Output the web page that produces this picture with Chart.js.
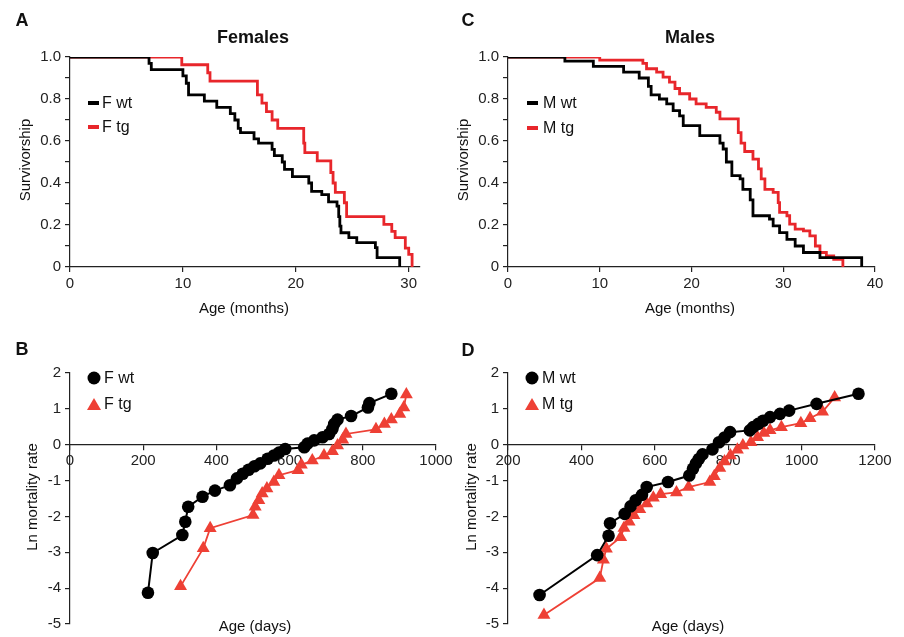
<!DOCTYPE html>
<html>
<head>
<meta charset="utf-8">
<script src="https://cdn.jsdelivr.net/npm/chart.js@4.4.0/dist/chart.umd.min.js"></script>
<style>
  body { margin: 0; background: #fff; font-family: "Liberation Sans", Arial, sans-serif; }
  #wrap { position: relative; width: 904px; height: 637px; overflow: hidden; }
  canvas { position: absolute; }
  .t { position: absolute; white-space: nowrap; color: #111; transform: translate(-50%, -50%); }
  .lt { position: absolute; white-space: nowrap; color: #111; font-size: 16px; transform: translateY(-50%); }
  .letter { font-weight: bold; font-size: 18px; }
  .title { font-weight: bold; font-size: 18px; }
  .ax { font-size: 15px; }
  .rot { transform: translate(-50%, -50%) rotate(-90deg); }
  .sw { position: absolute; height: 4px; width: 11px; transform: translateY(-50%); }
  .dot { position: absolute; width: 13px; height: 13px; border-radius: 50%; background: #000; transform: translate(-50%, -50%); }
  .tri { position: absolute; width: 0; height: 0; border-left: 7px solid transparent; border-right: 7px solid transparent;
         border-bottom: 12px solid #ee4035; transform: translate(-50%, -50%); }
</style>
</head>
<body>
<div id="wrap">
  <canvas id="cA" width="450" height="300" style="left:0;top:0"></canvas>
  <canvas id="cC" width="454" height="300" style="left:450px;top:0"></canvas>
  <canvas id="cB" width="470" height="297" style="left:0;top:340px"></canvas>
  <canvas id="cD" width="454" height="297" style="left:450px;top:340px"></canvas>

  <div class="t letter" style="left:22px;top:20px">A</div>
  <div class="t letter" style="left:468px;top:20px">C</div>
  <div class="t letter" style="left:22px;top:349px">B</div>
  <div class="t letter" style="left:468px;top:350px">D</div>

  <div class="t title" style="left:253px;top:37px">Females</div>
  <div class="t title" style="left:690px;top:37px">Males</div>

  <div class="t ax rot" style="left:24px;top:160px">Survivorship</div>
  <div class="t ax rot" style="left:462px;top:160px">Survivorship</div>
  <div class="t ax" style="left:244px;top:307px">Age (months)</div>
  <div class="t ax" style="left:690px;top:307px">Age (months)</div>

  <div class="t ax rot" style="left:31px;top:497px">Ln mortality rate</div>
  <div class="t ax rot" style="left:470px;top:497px">Ln mortality rate</div>
  <div class="t ax" style="left:255px;top:625px">Age (days)</div>
  <div class="t ax" style="left:688px;top:625px">Age (days)</div>

  <div class="sw" style="left:88px;top:103px;background:#000"></div>
  <div class="lt" style="left:102px;top:103px">F wt</div>
  <div class="sw" style="left:88px;top:127px;background:#e8262b"></div>
  <div class="lt" style="left:102px;top:127px">F tg</div>

  <div class="sw" style="left:527px;top:103px;background:#000"></div>
  <div class="lt" style="left:543px;top:103px">M wt</div>
  <div class="sw" style="left:527px;top:128px;background:#e8262b"></div>
  <div class="lt" style="left:543px;top:128px">M tg</div>

  <div class="dot" style="left:94px;top:378px"></div>
  <div class="lt" style="left:104px;top:378px">F wt</div>
  <div class="tri" style="left:94px;top:404px"></div>
  <div class="lt" style="left:104px;top:404px">F tg</div>

  <div class="dot" style="left:532px;top:378px"></div>
  <div class="lt" style="left:542px;top:378px">M wt</div>
  <div class="tri" style="left:532px;top:404px"></div>
  <div class="lt" style="left:542px;top:404px">M tg</div>
</div>

<script>
// Survival steps (month of death, survivorship after it)
const fWtMonths = [0, 7.0, 7.2, 10.0, 10.3, 10.5, 11.9, 13.0, 14.2, 14.6, 14.9, 15.1, 16.3, 16.7, 17.9, 18.1, 18.8, 19.0, 19.7, 21.15, 21.4, 22.3, 22.9, 23.65, 23.8, 23.9, 24.0, 24.7, 25.4, 27.05, 27.2, 29.2];
const fWtSurv   = [1.0, 0.97, 0.94, 0.91, 0.875, 0.82, 0.79, 0.76, 0.73, 0.70, 0.66, 0.64, 0.61, 0.59, 0.56, 0.53, 0.50, 0.465, 0.43, 0.40, 0.36, 0.345, 0.31, 0.29, 0.24, 0.195, 0.163, 0.14, 0.116, 0.092, 0.045, 0];

const fTgMonths = [0, 9.9, 12.2, 12.4, 16.6, 17.0, 17.4, 17.9, 18.4, 20.7, 20.8, 21.9, 23.1, 23.3, 23.5, 24.3, 24.5, 27.8, 28.5, 28.8, 29.7, 30.0, 30.3];
const fTgSurv   = [1.0, 0.963, 0.925, 0.885, 0.82, 0.78, 0.74, 0.70, 0.66, 0.59, 0.545, 0.505, 0.45, 0.40, 0.355, 0.306, 0.24, 0.203, 0.17, 0.14, 0.09, 0.06, 0];

const mWtMonths = [0, 6.2, 9.3, 12.6, 14.3, 15.3, 15.6, 16.5, 17.3, 18.0, 18.7, 19.1, 20.9, 23.1, 23.45, 23.8, 24.4, 25.3, 25.6, 26.4, 26.7, 28.5, 28.9, 29.6, 30.4, 31.3, 32.2, 34.0, 38.55];
const mWtSurv   = [1.0, 0.98, 0.955, 0.928, 0.90, 0.86, 0.82, 0.80, 0.777, 0.745, 0.72, 0.673, 0.626, 0.59, 0.562, 0.50, 0.435, 0.42, 0.37, 0.32, 0.244, 0.228, 0.196, 0.164, 0.132, 0.10, 0.069, 0.045, 0];

const mTgMonths = [0, 10.0, 14.7, 15.1, 16.2, 16.9, 17.6, 18.2, 18.7, 19.8, 20.5, 21.6, 22.7, 23.1, 25.1, 25.4, 25.8, 26.7, 27.3, 27.6, 28.0, 28.9, 29.45, 29.6, 30.4, 30.7, 31.3, 32.2, 32.9, 33.5, 34.0, 34.7, 35.5, 36.5];
const mTgSurv   = [1.0, 0.985, 0.97, 0.944, 0.928, 0.904, 0.88, 0.85, 0.825, 0.80, 0.777, 0.76, 0.737, 0.705, 0.64, 0.59, 0.55, 0.514, 0.467, 0.42, 0.37, 0.355, 0.307, 0.26, 0.244, 0.204, 0.18, 0.172, 0.148, 0.10, 0.069, 0.053, 0.037, 0];

// Ln mortality rate by age (days)
const fWtDays = [213, 226, 307, 315, 323, 362, 396, 437, 456, 472, 488, 504, 520, 540, 557, 571, 588, 640, 649, 667, 690, 708, 717, 722, 731, 768, 814, 818, 878];
const fWtLnMort = [-4.13, -3.02, -2.52, -2.15, -1.73, -1.45, -1.28, -1.13, -0.94, -0.81, -0.70, -0.60, -0.52, -0.39, -0.30, -0.22, -0.12, -0.07, 0.03, 0.12, 0.21, 0.30, 0.44, 0.58, 0.70, 0.80, 1.04, 1.16, 1.42];

const fTgDays = [302, 364, 383, 500, 506, 516, 525, 538, 557, 571, 623, 632, 662, 694, 717, 731, 745, 754, 836, 859, 878, 901, 912, 919];
const fTgLnMort = [-3.95, -2.89, -2.33, -1.96, -1.73, -1.55, -1.36, -1.22, -1.04, -0.85, -0.71, -0.56, -0.44, -0.30, -0.18, -0.02, 0.14, 0.30, 0.43, 0.58, 0.70, 0.86, 1.04, 1.40];

const mWtDays = [286, 443, 474, 478, 518, 534, 548, 565, 578, 636, 694, 704, 712, 720, 730, 757, 775, 790, 805, 859, 868, 882, 895, 914, 941, 966, 1041, 1155];
const mWtLnMort = [-4.19, -3.08, -2.54, -2.19, -1.93, -1.72, -1.55, -1.40, -1.18, -1.04, -0.86, -0.67, -0.52, -0.40, -0.27, -0.13, 0.07, 0.20, 0.35, 0.40, 0.49, 0.58, 0.67, 0.77, 0.86, 0.95, 1.14, 1.42];

const mTgDays = [298, 450, 460, 468, 507, 516, 530, 543, 559, 578, 596, 616, 659, 692, 750, 762, 777, 790, 806, 825, 840, 862, 880, 897, 914, 945, 998, 1023, 1057, 1090];
const mTgLnMort = [-4.75, -3.72, -3.21, -2.90, -2.58, -2.32, -2.15, -1.97, -1.80, -1.64, -1.48, -1.38, -1.33, -1.18, -1.04, -0.88, -0.65, -0.47, -0.30, -0.14, -0.02, 0.07, 0.21, 0.33, 0.40, 0.49, 0.60, 0.74, 0.92, 1.32];

const RED = '#e8262b';
const TRI_RED = '#ee4035';
const AXIS = '#222';
const tickFont = { family: '"Liberation Sans", Arial, sans-serif', size: 15 };

function pts(xs, ys) {
    return xs.map((x, i) => ({ x: x, y: ys[i] }));
}

function axisCommon() {
    return {
        type: 'linear',
        grid: { drawOnChartArea: false, drawTicks: true, tickLength: 5, color: AXIS, lineWidth: 1.2 },
        border: { display: true, color: AXIS, width: 1.2 },
    };
}

function survivalChart(id, wt, tg, xMax, yAxisW) {
    const x = axisCommon();
    x.min = 0; x.max = xMax;
    x.ticks = { stepSize: 10, includeBounds: false, font: tickFont, color: AXIS, padding: 3, maxRotation: 0,
                callback: v => String(v) };
    x.afterFit = s => { s.height = 33; };

    const y = axisCommon();
    y.min = 0; y.max = 1;
    y.ticks = {
        stepSize: 0.1, font: tickFont, color: AXIS, padding: 4,
        callback: v => {
            const r = Math.round(v * 10);
            if (r % 2) return '';
            return r === 0 ? '0' : (r / 10).toFixed(1);
        }
    };
    y.afterFit = s => { s.width = yAxisW; };

    new Chart(document.getElementById(id), {
        type: 'line',
        data: {
            datasets: [
                { data: wt, borderColor: '#000', borderWidth: 2.8, stepped: true, pointRadius: 0, fill: false },
                { data: tg, borderColor: RED, borderWidth: 2.8, stepped: true, pointRadius: 0, fill: false }
            ]
        },
        options: {
            responsive: false, animation: false,
            layout: { padding: { top: 57, right: id === 'cA' ? 30 : 29, left: 0, bottom: 0 } },
            plugins: { legend: { display: false }, tooltip: { enabled: false } },
            scales: { x: x, y: y }
        }
    });
}

function mortalityChart(id, wt, tg, xMin, xMax, yAxisW, padRight) {
    const x = axisCommon();
    x.min = xMin; x.max = xMax;
    x.position = { y: 0 };
    x.ticks = { stepSize: 200, font: tickFont, color: AXIS, padding: 2, maxRotation: 0,
                callback: v => String(v) };

    const y = axisCommon();
    y.min = -5; y.max = 2;
    y.ticks = { stepSize: 1, font: tickFont, color: AXIS, padding: 4 };
    y.afterFit = s => { s.width = yAxisW; };

    new Chart(document.getElementById(id), {
        type: 'line',
        data: {
            datasets: [
                { data: wt, borderColor: '#000', borderWidth: 2, pointStyle: 'circle', pointRadius: 6.3,
                  pointBackgroundColor: '#000', pointBorderColor: '#000', pointBorderWidth: 0, fill: false, tension: 0 },
                { data: tg, borderColor: TRI_RED, borderWidth: 1.8, pointStyle: 'triangle', pointRadius: 7.5,
                  pointBackgroundColor: TRI_RED, pointBorderColor: TRI_RED, pointBorderWidth: 0, fill: false, tension: 0 }
            ]
        },
        options: {
            responsive: false, animation: false,
            layout: { padding: { top: 33, right: padRight, left: 0, bottom: 12 } },
            plugins: { legend: { display: false }, tooltip: { enabled: false } },
            scales: { x: x, y: y }
        }
    });
}

survivalChart('cA', pts(fWtMonths, fWtSurv), pts(fTgMonths, fTgSurv), 31, 70);
survivalChart('cC', pts(mWtMonths, mWtSurv), pts(mTgMonths, mTgSurv), 40, 58);
mortalityChart('cB', pts(fWtDays, fWtLnMort), pts(fTgDays, fTgLnMort), 0, 1000, 70, 34);
mortalityChart('cD', pts(mWtDays, mWtLnMort), pts(mTgDays, mTgLnMort), 200, 1200, 58, 29);
</script>
</body>
</html>
